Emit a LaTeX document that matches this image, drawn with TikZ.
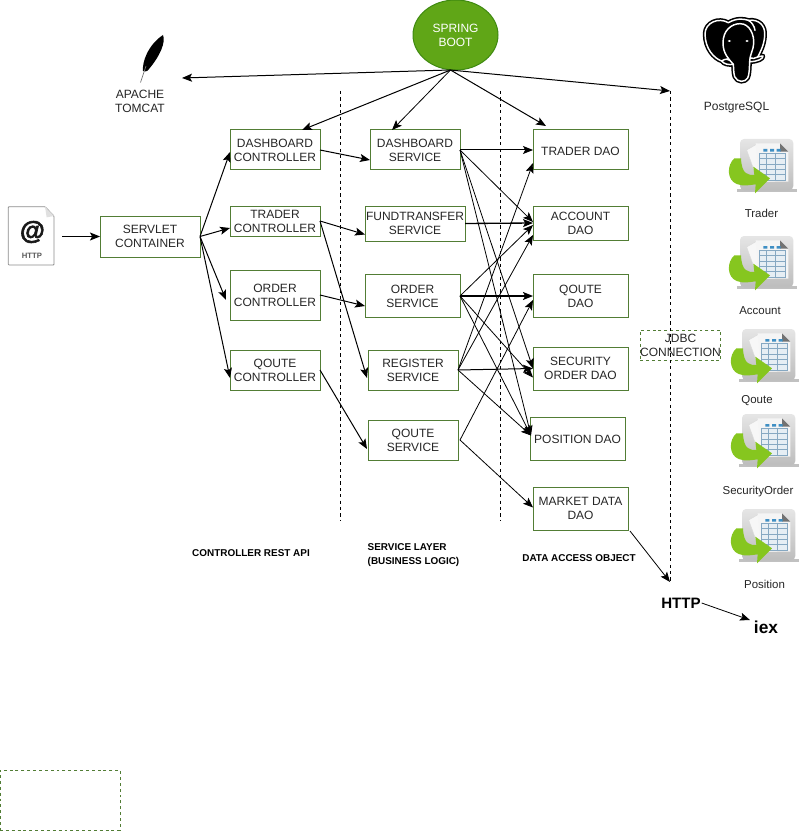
\documentclass[tikz,border=0pt]{standalone}
\usepackage{fontspec}
\setmainfont{Liberation Sans}
\newfontfamily\atfont[UprightFont=* Bold Italic,FakeBold=2.5]{Liberation Sans}
\usetikzlibrary{arrows.meta,shapes.geometric}
\definecolor{boxgreen}{HTML}{527D35}
\definecolor{txt}{HTML}{262626}
\definecolor{springfill}{HTML}{60A617}
\definecolor{springline}{HTML}{3F8A10}
\definecolor{icongreen}{HTML}{86C61F}
\definecolor{gridfill}{HTML}{E6EEF4}
\definecolor{gridline}{HTML}{86A8C2}
\definecolor{gridhead}{HTML}{3F8FC4}
\tikzset{
  x=0.75pt,y=-0.75pt,
  lower/.style={execute at begin node={\rule{0pt}{8pt}}},
  boxn/.style 2 args={draw=boxgreen,line width=0.75pt,minimum width={#1*0.75pt},minimum height={#2*0.75pt},inner sep=0pt,outer sep=0pt,align=center,text=txt,font=\fontsize{9}{10.5}\selectfont,lower},
  plain/.style={inner sep=0pt,outer sep=0pt,align=center,text=txt,font=\fontsize{9}{10.5}\selectfont},
  small/.style={inner sep=0pt,outer sep=0pt,align=left,text=black,font=\bfseries\fontsize{7.45}{10.5}\selectfont},
  tiplabel/.style={plain,font=\fontsize{8.6}{10.5}\selectfont},
  conn/.style={line width=0.75pt,-{Stealth[length=7.5pt,width=6pt,inset=1.6pt]}},
  thinconn/.style={line width=0.6pt,-{Stealth[length=7.5pt,width=6pt,inset=1.6pt]}},
  sep/.style={line width=0.75pt,dash pattern=on 2.4pt off 2.4pt},
  dy/.style={yshift={-(#1)*0.75pt}},
  dx/.style={xshift={(#1)*0.75pt}},
  tableicon/.pic={
    \begin{scope}[x=0.25pt,y=-0.25pt]
      \fill[black!35,opacity=.7] (35,178) rectangle (215,186);
      \shade[top color=black!10,bottom color=black!26,rounded corners=3pt] (45,27) rectangle (205,180);
      \fill[black!3,draw=black!15,line width=.3pt] (65,60) -- (100,40) -- (140,60) -- (150,155) -- (100,155) -- cycle;
      \fill[black!4] (92,40) -- (165,40) -- (190,65) -- (190,155) -- (102,155) -- cycle;
      \fill[black!55] (165,40) -- (190,65) -- (165,65) -- cycle;
      \fill[gridhead] (115,57) rectangle (127,65) (135,57) rectangle (147,65) (155,57) rectangle (167,65);
      \fill[gridfill] (102,70) rectangle (180,150);
      \draw[gridline,line width=.45pt]
        (102,70) rectangle (180,150)
        (102,86) -- (180,86) (102,102) -- (180,102) (102,118) -- (180,118) (102,134) -- (180,134)
        (125,70) -- (125,150) (150,70) -- (150,150);
      \fill[icongreen]
        (28,85) .. controls (5,105) and (5,150) .. (35,162)
        .. controls (55,170) and (75,165) .. (92,163)
        -- (90,190) -- (135,145) -- (85,110) -- (88,135)
        .. controls (70,135) and (50,135) .. (48,85) -- cycle;
    \end{scope}
  }
}
\begin{document}
\begin{tikzpicture}
\useasboundingbox (0,0) rectangle (810,831);

% bottom-left empty dashed box
\node[boxn={120}{60},dashed,dash pattern=on 2.2pt off 2.2pt] (legend) at (60,800) {};

% spring boot
\node[ellipse,draw=springline,fill=springfill,line width=0.75pt,minimum width={85*0.75pt},minimum height={70*0.75pt},inner sep=0pt,outer sep=0pt,align=center,text=white,font=\fontsize{9}{10.5}\selectfont,lower] (spring) at (455.5,35) {SPRING\\BOOT};

% main boxes
\node[boxn={100}{41}] (servlet) at (150,236.5) {SERVLET\\CONTAINER};
\node[boxn={90}{40}] (dc) at (275,150) {DASHBOARD\\CONTROLLER};
\node[boxn={90}{30}] (tc) at (275,221) {TRADER\\CONTROLLER};
\node[boxn={90}{50}] (oc) at (275,295) {ORDER\\CONTROLLER};
\node[boxn={90}{40}] (qc) at (275,370) {QOUTE\\CONTROLLER};

\node[boxn={90}{40}] (ds) at (415,150) {DASHBOARD\\SERVICE};
\node[boxn={100}{35}] (ft) at (415,223.5) {FUNDTRANSFER\\SERVICE};
\node[boxn={95}{43}] (os) at (412.5,296) {ORDER\\SERVICE};
\node[boxn={90}{40}] (rs) at (413,370) {REGISTER\\SERVICE};
\node[boxn={90}{40}] (qs) at (413,440) {QOUTE\\SERVICE};

\node[boxn={95}{40}] (td) at (580.5,150) {TRADER DAO};
\node[boxn={95}{34}] (ad) at (580.5,223) {ACCOUNT\\DAO};
\node[boxn={95}{43}] (qd) at (580.5,296) {QOUTE\\DAO};
\node[boxn={95}{43}] (so) at (580.5,368.5) {SECURITY\\ORDER DAO};
\node[boxn={95}{43}] (pd) at (577.5,438.5) {POSITION DAO};
\node[boxn={95}{43}] (md) at (580.5,508.5) {MARKET DATA\\DAO};
\node[boxn={80}{30},dashed,dash pattern=on 2.2pt off 2.2pt] (jdbc) at (680.5,345) {JDBC\\CONNECTION};

% text labels
\node[plain] (tomcat) at (140,101) {APACHE\\TOMCAT};
\node[plain] (pg) at (736.5,108) {PostgreSQL};
\node[tiplabel] (ltrader) at (761.5,213) {Trader};
\node[tiplabel] (laccount) at (760,311) {Account};
\node[tiplabel] (lqoute) at (757,400.5) {Qoute};
\node[tiplabel] (lsecurity) at (758,492) {SecurityOrder};
\node[tiplabel] (lposition) at (764.5,584) {Position};
\node[small] (lctl) at (251,553.5) {CONTROLLER REST API};
\node[small] (lsvc) at (413.5,555) {SERVICE LAYER\\(BUSINESS LOGIC)};
\node[small] (ldao) at (579,558.5) {DATA ACCESS OBJECT};
\node[inner sep=0pt,outer sep=0pt,font=\bfseries\fontsize{11.3}{13}\selectfont] (http) at (681,603) {HTTP};
\node[inner sep=0pt,outer sep=0pt,font=\bfseries\fontsize{13}{15}\selectfont] (iex) at (766,627) {iex};

% free ends
\coordinate (tomcatin) at (182,78);
\coordinate (jtop) at (670,91);
\coordinate (jbot) at (670,582);
\coordinate (sepAtop) at (340,91);
\coordinate (sepAbot) at (340,520);
\coordinate (sepBtop) at (500,91);
\coordinate (sepBbot) at (500,520);
\coordinate (sprout) at (450,70);
\coordinate (httpicon) at (62,236.5);

% separators
\draw[sep] (sepAtop) -- (sepAbot);
\draw[sep] (sepBtop) -- (sepBbot);
\draw[sep] (jtop) -- (jbot);

% spring boot connectors
\draw[conn] (sprout) -- (tomcatin);
\draw[conn] (sprout) -- (jtop);
\draw[conn] ([dx=-5]spring.south) -- ([dx=27]dc.north);
\draw[thinconn] ([dx=-5]spring.south) -- ([dx=-23]ds.north);
\draw[conn] ([dx=-5]spring.south) -- ([dx=-34.5,dy=-4]td.north);

% entry
\draw[conn] (httpicon) -- (servlet.west);

% servlet to controllers
\draw[conn] (servlet.east) -- ([dy=2]dc.west);
\draw[conn] (servlet.east) -- ([dy=7]tc.west);
\draw[conn] (servlet.east) -- ([dx=-4,dy=5]oc.west);
\draw[conn] (servlet.east) -- ([dy=8]qc.west);

% controllers to services
\draw[conn] (dc.east) -- ([dy=10]ds.west);
\draw[conn] (tc.east) -- ([dy=11]ft.west);
\draw[conn] (tc.east) -- ([dx=-1,dy=8]rs.west);
\draw[conn] (oc.east) -- ([dy=10]os.west);
\draw[conn] (qc.east) -- ([dx=-1,dy=9]qs.west);

% services to DAOs
\draw[conn] (ds.east) -- (td.west);
\draw[thinconn] (ds.east) -- ([dy=-1]ad.west);
\draw[thinconn] (ds.east) -- ([dy=0]so.west);
\draw[thinconn] (ds.east) -- ([dx=1,dy=-3]pd.west);
\draw[conn,line width=1pt] (ft.east) -- (ad.west);
\draw[thinconn] (os.east) -- ([dy=2]ad.west);
\draw[conn,line width=1pt] (os.east) -- (qd.west);
\draw[thinconn] (os.east) -- ([dy=9]so.west);
\draw[thinconn] (os.east) -- ([dx=1,dy=-3]pd.west);
\draw[thinconn] (rs.east) -- ([dy=13]td.west);
\draw[thinconn] (rs.east) -- ([dy=12]ad.west);
\draw[conn] (rs.east) -- (so.west);
\draw[thinconn] (rs.east) -- ([dx=1,dy=-3]pd.west);
\draw[thinconn] ([dx=2]qs.east) -- ([dy=4]qd.west);
\draw[thinconn] ([dx=2]qs.east) -- ([dy=-1]md.west);
\draw[thinconn] ([dx=2,dy=1]md.south east) -- (jbot);
\draw[thinconn] ([dx=1]http.east) -- ([dx=-4,dy=-7]iex.west);

% HTTP document icon
\begin{scope}[shift={(0,200)},x=0.25pt,y=-0.25pt]
  \filldraw[draw=black!45,fill=white,line width=.6pt,rounded corners=.6pt] (25,20) -- (135,20) -- (162,48) -- (162,195) -- (25,195) -- cycle;
  \fill[black!12] (135,20) -- (162,48) -- (140,52) -- cycle;
\end{scope}
\node[inner sep=0pt,outer sep=0pt,font=\atfont\fontsize{19}{20}\selectfont,text=black!90] (at) at (32,232) {@};
\node[inner sep=0pt,outer sep=0pt,font=\bfseries\fontsize{5.8}{6}\selectfont,text=black!65] (httpdoc) at (32,256) {HTTP};

% Tomcat feather
\fill[black] (163,35) .. controls (166,42) and (160,56) .. (149,69) .. controls (147,72) and (144,72) .. (143,71) .. controls (142,62) and (148,45) .. (163,35) -- cycle;
\draw[black!55,line width=.5pt] (146,66) -- (140.5,82.5);

% PostgreSQL elephant
\begin{scope}[shift={(695,12)},x=0.25pt,y=-0.25pt]
  \def\eleph{(30,65) .. controls (31,32) and (70,15) .. (100,32) .. controls (125,18) and (145,20) .. (160,25) .. controls (193,21) and (212,42) .. (209,72) .. controls (207,100) and (196,120) .. (188,135) .. controls (195,134) and (203,131) .. (204,132) .. controls (205,140) and (188,149) .. (164,149) .. controls (163,170) and (163,188) .. (158,198) .. controls (150,212) and (127,212) .. (119,194) .. controls (115,180) and (116,165) .. (115,157) .. controls (102,159) and (87,157) .. (80,147) .. controls (57,139) and (30,110) .. (30,65) -- cycle}
  \fill[black] \eleph;
  \draw[black,line width=3.4pt,line join=round] \eleph;
  \filldraw[draw=white,fill=black,line width=1.1pt,line join=round] \eleph;
  \draw[white,line width=1.1pt,line cap=round]
    (115,157) .. controls (100,140) and (85,125) .. (84,95) .. controls (83,55) and (110,35) .. (135,35) .. controls (165,35) and (178,70) .. (176,95) .. controls (175,115) and (165,125) .. (164,149)
    (160,25) .. controls (170,30) and (178,42) .. (180,55)
    (80,147) .. controls (90,140) and (100,140) .. (105,145)
    (188,135) .. controls (180,140) and (172,140) .. (166,138);
  \fill[white] (103,87) ellipse (5 and 3) (156,87) ellipse (5 and 3);
\end{scope}

% table icons
\pic at (725,130) {tableicon};
\pic at (725,227) {tableicon};
\pic at (727,320) {tableicon};
\pic at (727,405) {tableicon};
\pic at (727,500) {tableicon};
\end{tikzpicture}
\end{document}
